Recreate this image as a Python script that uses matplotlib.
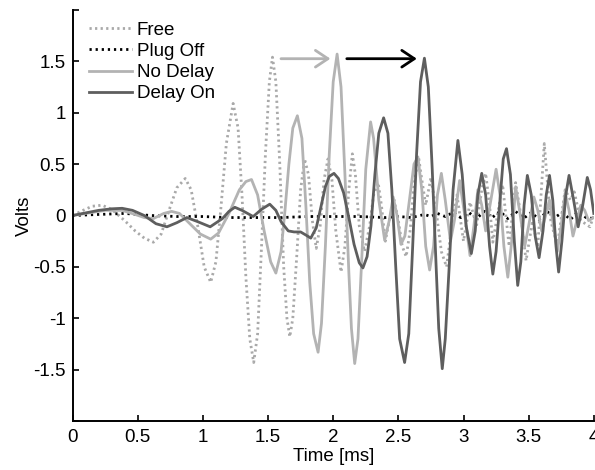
import matplotlib
matplotlib.use("Agg")
import matplotlib.pyplot as plt

plt.rcParams['font.family'] = ['Liberation Sans', 'DejaVu Sans']

# ---- data ----
free_t = [0.00, 0.08, 0.15, 0.226, 0.30, 0.40, 0.48, 0.55, 0.62, 0.68, 0.74, 0.80, 0.865, 0.91, 0.96,
          1.01, 1.06, 1.10, 1.14, 1.18, 1.232, 1.27, 1.30, 1.33, 1.36, 1.39, 1.42, 1.45, 1.48, 1.51,
          1.534, 1.56, 1.59, 1.62, 1.645, 1.667, 1.69, 1.72, 1.75, 1.78, 1.81, 1.84, 1.87, 1.90, 1.93,
          1.96, 1.99, 2.02, 2.06, 2.09, 2.12, 2.147, 2.17, 2.20, 2.24, 2.28, 2.31, 2.345, 2.37, 2.40,
          2.43, 2.466, 2.50, 2.53, 2.56, 2.59, 2.62, 2.655, 2.68, 2.71, 2.75, 2.79, 2.83, 2.87, 2.91,
          2.95, 3.00, 3.05, 3.10, 3.14, 3.17, 3.20, 3.225, 3.26, 3.30, 3.35, 3.40, 3.44, 3.48, 3.53,
          3.57, 3.595, 3.62, 3.645, 3.67, 3.72, 3.78, 3.82, 3.85, 3.90, 3.97, 4.00]
free_v = [0.00, 0.05, 0.09, 0.10, 0.06, -0.05, -0.15, -0.22, -0.26, -0.18, 0.05, 0.27, 0.36, 0.25, -0.10,
          -0.50, -0.65, -0.45, 0.10, 0.70, 1.09, 0.85, 0.20, -0.60, -1.20, -1.43, -1.15, -0.30, 0.60, 1.30,
          1.54, 1.30, 0.50, -0.50, -1.00, -1.18, -1.00, -0.40, 0.25, 0.55, 0.40, -0.05, -0.32, -0.10, 0.35,
          0.55, 0.35, -0.15, -0.55, -0.30, 0.25, 0.60, 0.40, -0.10, -0.35, -0.10, 0.20, 0.32, 0.10, -0.25,
          -0.05, 0.16, -0.05, -0.30, -0.40, -0.15, 0.30, 0.57, 0.35, 0.10, 0.37, 0.05, -0.35, -0.50, -0.10,
          0.20, -0.25, 0.13, -0.10, 0.25, 0.41, 0.10, -0.26, 0.00, 0.30, -0.30, 0.32, 0.00, -0.44, -0.05,
          -0.31, 0.20, 0.70, 0.30, -0.05, -0.30, 0.25, 0.15, 0.23, -0.05, -0.11, 0.00]

plug_t = [0.0, 0.2, 0.4, 0.6, 0.8, 1.0, 1.2, 1.4, 1.6, 1.8, 2.0, 2.2, 2.4, 2.5, 2.6, 2.7, 2.75, 2.8,
          2.86, 2.92, 2.98, 3.04, 3.10, 3.16, 3.22, 3.28, 3.34, 3.40, 3.46, 3.52, 3.58, 3.64, 3.70,
          3.76, 3.82, 3.88, 3.94, 4.0]
plug_v = [0.0, 0.01, 0.02, 0.0, -0.01, -0.01, -0.02, -0.02, -0.02, -0.01, -0.01, -0.01, -0.02, -0.01,
          -0.02, 0.01, -0.01, 0.02, -0.01, 0.03, -0.02, 0.03, -0.03, 0.04, -0.02, 0.04, -0.03, 0.04,
          -0.03, 0.03, -0.04, 0.04, -0.02, 0.03, -0.04, 0.04, -0.02, -0.03]

nodelay_t = [0.00, 0.10, 0.25, 0.38, 0.48, 0.55, 0.62, 0.70, 0.76, 0.82, 0.90, 0.98, 1.06, 1.12, 1.20,
             1.28, 1.33, 1.373, 1.42, 1.47, 1.52, 1.56, 1.60, 1.63, 1.66, 1.69, 1.725, 1.76, 1.79, 1.82,
             1.85, 1.884, 1.91, 1.94, 1.97, 2.00, 2.03, 2.06, 2.09, 2.12, 2.14, 2.165, 2.19, 2.22, 2.25,
             2.287, 2.31, 2.35, 2.395, 2.43, 2.46, 2.49, 2.52, 2.55, 2.59, 2.62, 2.65, 2.68, 2.71, 2.74,
             2.77, 2.80, 2.83, 2.86, 2.90, 2.93, 2.97, 3.01, 3.05, 3.08, 3.11, 3.14, 3.17, 3.21, 3.25,
             3.28, 3.31, 3.34, 3.37, 3.40, 3.43, 3.47, 3.50, 3.54, 3.57, 3.60, 3.63, 3.66, 3.69, 3.72,
             3.75, 3.78, 3.81, 3.84, 3.87, 3.90, 3.93, 3.96, 4.00]
nodelay_v = [0.00, 0.02, 0.05, 0.05, 0.01, -0.02, -0.03, 0.02, 0.04, 0.02, -0.08, -0.18, -0.23, -0.17, 0.02,
             0.25, 0.33, 0.35, 0.20, -0.15, -0.45, -0.56, -0.35, 0.05, 0.50, 0.85, 0.97, 0.75, 0.10, -0.65,
             -1.15, -1.33, -1.05, -0.30, 0.60, 1.30, 1.57, 1.25, 0.40, -0.55, -1.10, -1.44, -1.20, -0.40, 0.45,
             0.91, 0.75, 0.15, -0.24, -0.05, 0.18, 0.00, -0.28, -0.20, 0.20, 0.50, 0.57, 0.25, -0.30, -0.53,
             -0.30, 0.20, 0.41, 0.15, -0.25, -0.05, 0.34, 0.00, -0.39, -0.10, 0.25, 0.10, -0.15, 0.15, 0.45,
             0.20, -0.30, -0.60, -0.25, 0.28, 0.05, -0.30, -0.10, 0.18, 0.05, -0.15, 0.00, 0.15, -0.10, -0.35,
             -0.10, 0.22, 0.05, -0.20, -0.05, 0.10, 0.05, -0.05, -0.02]

delay_t = [0.00, 0.08, 0.20, 0.30, 0.38, 0.46, 0.55, 0.64, 0.724, 0.80, 0.877, 0.96, 1.056, 1.15, 1.20,
           1.245, 1.30, 1.386, 1.45, 1.513, 1.56, 1.60, 1.655, 1.70, 1.75, 1.79, 1.828, 1.87, 1.90, 1.94,
           1.97, 2.006, 2.04, 2.08, 2.12, 2.16, 2.20, 2.228, 2.26, 2.29, 2.32, 2.35, 2.387, 2.42, 2.45,
           2.48, 2.51, 2.548, 2.58, 2.61, 2.64, 2.67, 2.70, 2.73, 2.76, 2.79, 2.81, 2.837, 2.86, 2.89,
           2.92, 2.957, 2.99, 3.02, 3.06, 3.09, 3.11, 3.14, 3.17, 3.20, 3.225, 3.25, 3.28, 3.305, 3.33,
           3.36, 3.39, 3.416, 3.44, 3.465, 3.49, 3.52, 3.55, 3.58, 3.61, 3.635, 3.66, 3.685, 3.71, 3.73,
           3.755, 3.785, 3.81, 3.845, 3.88, 3.915, 3.95, 3.975, 4.00]
delay_v = [0.00, 0.02, 0.05, 0.065, 0.07, 0.05, 0.00, -0.08, -0.11, -0.07, -0.02, -0.06, -0.11, -0.03, 0.04,
           0.08, 0.05, -0.01, 0.06, 0.11, 0.05, -0.06, -0.15, -0.16, -0.16, -0.19, -0.22, -0.12, 0.05, 0.28,
           0.38, 0.41, 0.36, 0.22, -0.02, -0.28, -0.46, -0.51, -0.40, -0.10, 0.40, 0.80, 0.95, 0.80, 0.25,
           -0.50, -1.20, -1.43, -1.15, -0.30, 0.60, 1.30, 1.53, 1.25, 0.45, -0.50, -1.10, -1.49, -1.20, -0.50,
           0.25, 0.73, 0.40, -0.10, -0.37, -0.15, 0.20, 0.41, 0.20, -0.30, -0.57, -0.35, 0.15, 0.55, 0.65,
           0.40, -0.25, -0.68, -0.45, 0.10, 0.39, 0.20, -0.20, -0.41, -0.15, 0.20, 0.39, 0.15, -0.30, -0.55,
           -0.25, 0.20, 0.39, 0.15, -0.11, 0.10, 0.37, 0.25, 0.02]

labels = ["Free", "Plug Off", "No Delay", "Delay On"]
x_ticks = [0, 0.5, 1, 1.5, 2, 2.5, 3, 3.5, 4]
x_ticklabels = ["0", "0.5", "1", "1.5", "2", "2.5", "3", "3.5", "4"]
y_ticks = [-2, -1.5, -1, -0.5, 0, 0.5, 1, 1.5, 2]
y_ticklabels = ["", "-1.5", "-1", "-0.5", "0", "0.5", "1", "1.5", ""]

# arrows (start t, end t, level)
arrow1 = (1.578, 2.00, 1.525)
arrow2 = (2.083, 2.663, 1.525)

fig = plt.figure(figsize=(5.95, 4.70), dpi=100)
ax = fig.add_axes([0.122, 0.104, 0.876, 0.875])

ax.plot(free_t, free_v, color="#a9a9a9", lw=2.0, linestyle=(0, (0.8, 1.2)), label=labels[0])
ax.plot(plug_t, plug_v, color="black", lw=2.0, linestyle=(0, (0.8, 1.4)), label=labels[1])
ax.plot(nodelay_t, nodelay_v, color="#b3b3b3", lw=2.0, label=labels[2])
ax.plot(delay_t, delay_v, color="#5e5e5e", lw=2.0, label=labels[3])

ax.annotate("", xy=(arrow1[1], arrow1[2]), xytext=(arrow1[0], arrow1[2]),
            arrowprops=dict(arrowstyle="->,head_length=0.9,head_width=0.6", color="#b3b3b3", lw=2))
ax.annotate("", xy=(arrow2[1], arrow2[2]), xytext=(arrow2[0], arrow2[2]),
            arrowprops=dict(arrowstyle="->,head_length=0.9,head_width=0.6", color="black", lw=2))

ax.set_xlim(0, 4)
ax.set_ylim(-2, 2)
ax.set_xticks(x_ticks)
ax.set_xticklabels(x_ticklabels)
ax.set_yticks(y_ticks)
ax.set_yticklabels(y_ticklabels)
ax.tick_params(direction="in", length=4, width=1.2, labelsize=13.5)
ax.tick_params(axis="x", pad=6)
ax.tick_params(axis="y", pad=5)
for s in ["top", "right"]:
    ax.spines[s].set_visible(False)
for s in ["left", "bottom"]:
    ax.spines[s].set_linewidth(1.4)

ax.set_xlabel("Time [ms]", fontsize=13.5, labelpad=1)
ax.set_ylabel("Volts", fontsize=13.5, labelpad=0)

leg = ax.legend(loc="upper left", frameon=False, fontsize=13.5, handlelength=2.3,
                handletextpad=0.25, labelspacing=0.22, borderaxespad=0.0,
                bbox_to_anchor=(0.017, 0.99))

fig.savefig("out.png", dpi=100)
